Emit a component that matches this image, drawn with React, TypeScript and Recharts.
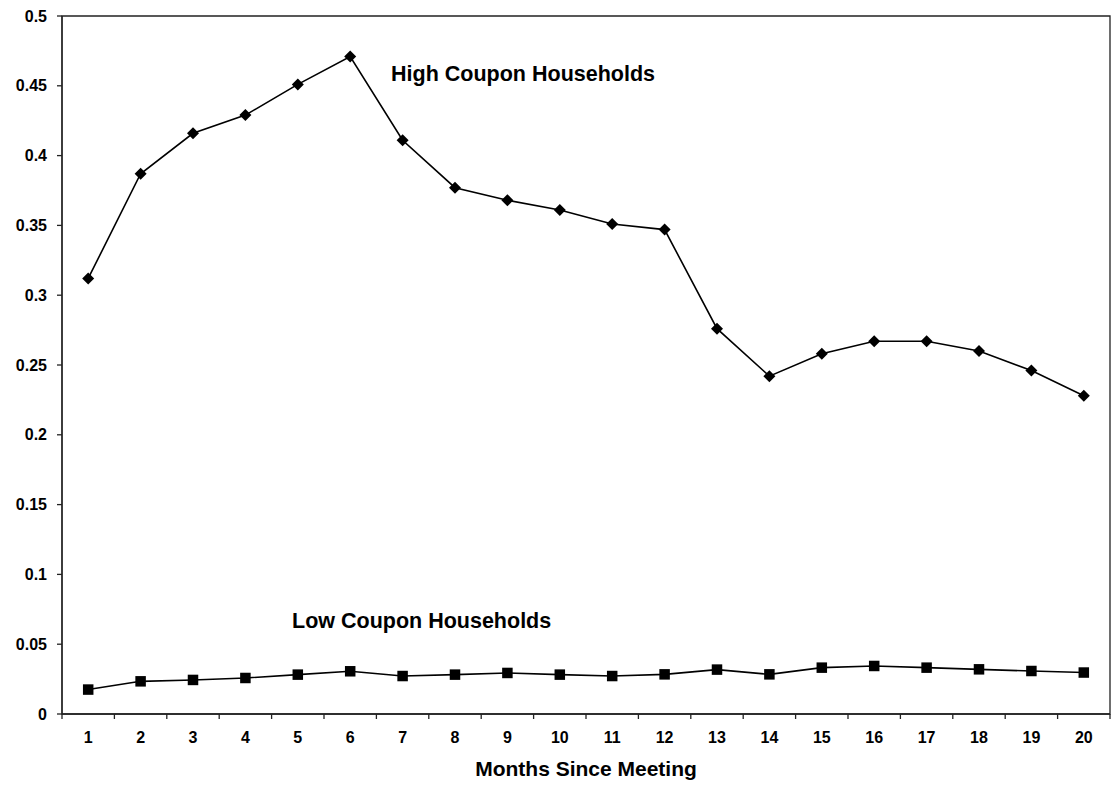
import React from 'react';
import { LineChart, Line, XAxis, YAxis, ReferenceArea, ReferenceDot } from 'recharts';

const months = [1, 2, 3, 4, 5, 6, 7, 8, 9, 10, 11, 12, 13, 14, 15, 16, 17, 18, 19, 20];
const highCoupon = [0.312, 0.387, 0.416, 0.429, 0.451, 0.471, 0.411, 0.377, 0.368, 0.361, 0.351, 0.347, 0.276, 0.242, 0.258, 0.267, 0.267, 0.260, 0.246, 0.228];
const lowCoupon = [0.0175, 0.0234, 0.0244, 0.0258, 0.0282, 0.0306, 0.0272, 0.0282, 0.0294, 0.0282, 0.0272, 0.0284, 0.0318, 0.0284, 0.0332, 0.0344, 0.0332, 0.032, 0.0308, 0.0297];
const yTicks = [0, 0.05, 0.1, 0.15, 0.2, 0.25, 0.3, 0.35, 0.4, 0.45, 0.5];
const yTickLabels = ['0', '0.05', '0.1', '0.15', '0.2', '0.25', '0.3', '0.35', '0.4', '0.45', '0.5'];

const data = months.map((m, i) => ({ month: m, high: highCoupon[i], low: lowCoupon[i] }));
const boundaries = [months[0] - 0.5, ...months.map((m) => m + 0.5)];
const xTicks = [...months, ...boundaries].sort((a, b) => a - b);

const FONT = '"Liberation Sans", Arial, sans-serif';

const XTick = (props: any) => {
  const { x, y, payload } = props;
  const v = payload.value;
  if (Number.isInteger(v)) {
    return (
      <text x={x} y={y + 29} textAnchor="middle" fontSize={16} fontWeight="bold" fill="#000" fontFamily={FONT}>
        {String(v)}
      </text>
    );
  }
  return <line x1={x} x2={x} y1={y} y2={y + 5} stroke="#222" strokeWidth={1.3} />;
};

const Diamond = (props: any) => {
  const { cx, cy } = props;
  if (cx == null || cy == null) return null;
  const r = 6;
  return <polygon points={`${cx},${cy - r} ${cx + r},${cy} ${cx},${cy + r} ${cx - r},${cy}`} fill="#000" stroke="none" />;
};

const Square = (props: any) => {
  const { cx, cy } = props;
  if (cx == null || cy == null) return null;
  const s = 10.5;
  return <rect x={cx - s / 2} y={cy - s / 2} width={s} height={s} fill="#000" stroke="none" />;
};

export default function App() {
  return (
    <div style={{ position: 'absolute', left: 0, top: 0, background: '#fff' }}>
      <LineChart
        width={1111}
        height={786}
        data={data}
        margin={{ top: 16, right: 1, bottom: 0, left: 0 }}
        style={{ fontFamily: FONT }}
      >
        <ReferenceArea x1={0.5} x2={20.5} y1={0} y2={0.5} fill="none" stroke="#222" strokeWidth={1.3} ifOverflow="visible" />
        <XAxis
          dataKey="month"
          type="number"
          domain={[0.5, 20.5]}
          ticks={xTicks}
          interval={0}
          tick={(p: any) => <XTick {...p} />}
          tickLine={false}
          tickSize={0}
          tickMargin={0}
          height={72}
          axisLine={{ stroke: '#222', strokeWidth: 1.3 }}
          label={{ value: 'Months Since Meeting', position: 'insideBottom', offset: 10, fontSize: 21, fontWeight: 'bold', fill: '#000', fontFamily: FONT }}
        />
        <YAxis
          type="number"
          domain={[0, 0.5]}
          ticks={yTicks}
          interval={0}
          width={62}
          tickSize={5}
          tickMargin={10}
          tickFormatter={(v: number) => yTickLabels[yTicks.indexOf(v)] ?? String(v)}
          tick={{ fontSize: 16, fontWeight: 'bold', fill: '#000', fontFamily: FONT }}
          tickLine={{ stroke: '#222', strokeWidth: 1.3 }}
          axisLine={{ stroke: '#222', strokeWidth: 1.3 }}
        />
        <Line
          type="linear"
          dataKey="high"
          stroke="#000"
          strokeWidth={1.6}
          dot={(p: any) => <Diamond key={`d${p.index}`} {...p} />}
          activeDot={false}
          isAnimationActive={false}
        />
        <Line
          type="linear"
          dataKey="low"
          stroke="#000"
          strokeWidth={1.6}
          dot={(p: any) => <Square key={`s${p.index}`} {...p} />}
          activeDot={false}
          isAnimationActive={false}
        />
        <ReferenceDot
          x={6.78}
          y={0.459}
          r={0}
          fill="none"
          stroke="none"
          ifOverflow="visible"
          label={{ value: 'High Coupon Households', position: 'right', offset: 0, fontSize: 21.5, fontWeight: 'bold', fill: '#000', fontFamily: FONT }}
        />
        <ReferenceDot
          x={4.89}
          y={0.0669}
          r={0}
          fill="none"
          stroke="none"
          ifOverflow="visible"
          label={{ value: 'Low Coupon Households', position: 'right', offset: 0, fontSize: 21.5, fontWeight: 'bold', fill: '#000', fontFamily: FONT }}
        />
      </LineChart>
    </div>
  );
}
